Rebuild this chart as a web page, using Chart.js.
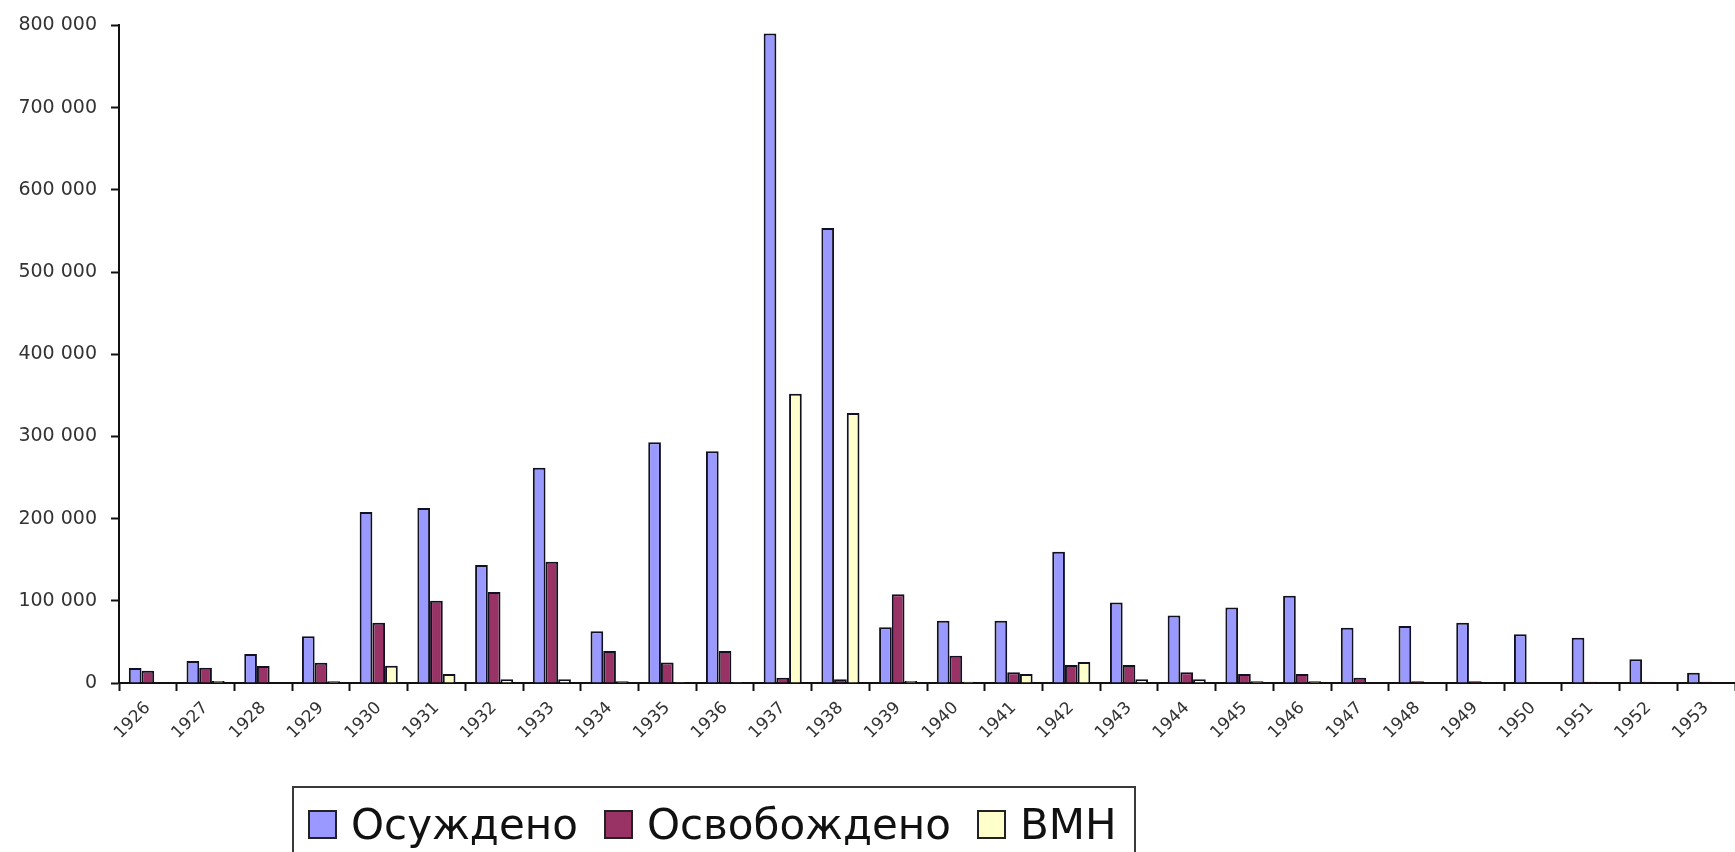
<!DOCTYPE html>
<html>
<head>
<meta charset="utf-8">
<script src="https://cdn.jsdelivr.net/npm/chart.js@4.4.1/dist/chart.umd.min.js"></script>
<style>
  html, body { margin: 0; padding: 0; background: #fff; overflow: hidden; }
  #wrap { position: relative; width: 1735px; height: 852px; }
  #legend {
    position: absolute; left: 292px; top: 786px; height: 90px;
    border: 2px solid #3a3a3a; box-sizing: border-box;
    display: inline-flex; align-items: flex-start; padding: 12px 17px 0 14px;
    font-family: "DejaVu Sans", sans-serif; font-size: 42px; color: #111;
  }
  #legend .item { display: flex; align-items: center; margin-right: 26px; }
  #legend .item:last-child { margin-right: 0; }
  #legend .sw { width: 25px; height: 25px; border: 2px solid #222; margin-right: 14px; }
</style>
</head>
<body>
<div id="wrap">
  <canvas id="chart"></canvas>
  <div id="legend"></div>
</div>
<script>
const years = ["1926", "1927", "1928", "1929", "1930", "1931", "1932", "1933", "1934", "1935",
   "1936", "1937", "1938", "1939", "1940", "1941", "1942", "1943", "1944", "1945",
   "1946", "1947", "1948", "1949", "1950", "1951", "1952", "1953"];

// Осуждено
const convicted = [18200, 26800, 35300, 57000, 208000, 213000, 143500, 262000, 63000, 293000,
   282000, 790000, 553600, 67700, 75800, 75800, 159800, 98000, 82000, 92000,
   106000, 67300, 69300, 73400, 59200, 55000, 28800, 12500];

// Освобождено
const released = [15000, 18600, 20700, 24700, 73400, 100000, 110700, 147600, 39000, 25000,
   39000, 6500, 4500, 108000, 33000, 13000, 22000, 22000, 13000, 11000,
   11000, 6500, 2000, 2000, 0, 1500, 1500, 1500];

// ВМН
const executed = [0, 2400, 0, 2100, 21000, 11000, 4500, 4500, 2000, 1200,
   1100, 352000, 328600, 2500, 1600, 11000, 25500, 4500, 4500, 2000,
   2000, 0, 0, 0, 0, 0, 0, 0];

const seriesNames = ["Осуждено", "Освобождено", "ВМН"];
const seriesColors = ["#9999ff", "#993366", "#ffffcc"];

const canvas = document.getElementById("chart");
canvas.width = 1735;
canvas.height = 852;

new Chart(canvas, {
   type: "bar",
   data: {
      labels: years,
      datasets: [convicted, released, executed].map((values, i) => ({
         label: seriesNames[i],
         data: values,
         backgroundColor: seriesColors[i],
         borderColor: "#111122",
         borderWidth: 2,
         borderSkipped: "bottom",
         categoryPercentage: 0.66,
         barPercentage: 1
      }))
   },
   options: {
      responsive: false,
      animation: false,
      layout: { padding: { left: 0, right: 0, top: 25, bottom: 69 } },
      plugins: {
         legend: { display: false },
         tooltip: { enabled: false }
      },
      scales: {
         x: {
            offset: true,
            grid: {
               offset: true,
               drawOnChartArea: false,
               drawTicks: true,
               tickLength: 8,
               tickWidth: 2,
               tickColor: "#111"
            },
            border: { display: true, color: "#111", width: 2 },
            ticks: {
               font: { family: "DejaVu Sans", size: 17 },
               color: "#333",
               maxRotation: 45,
               minRotation: 45,
               autoSkip: false,
               padding: 7
            },
            afterFit: scale => { scale.height = 100; }
         },
         y: {
            min: 0,
            max: 800000,
            grid: {
               drawOnChartArea: false,
               drawTicks: true,
               tickLength: 8,
               tickWidth: 2,
               tickColor: "#111"
            },
            border: { display: true, color: "#111", width: 2 },
            ticks: {
               stepSize: 100000,
               font: { family: "DejaVu Sans", size: 19 },
               color: "#333",
               padding: 14,
               callback: v => v === 0 ? "0" : String(v).replace(/\B(?=(\d{3})+(?!\d))/g, " ")
            },
            afterFit: scale => { scale.width = 119; }
         }
      }
   }
});

// Legend box below the chart
const legend = document.getElementById("legend");
seriesNames.forEach((name, i) => {
   const item = document.createElement("div");
   item.className = "item";
   const sw = document.createElement("span");
   sw.className = "sw";
   sw.style.background = seriesColors[i];
   const txt = document.createElement("span");
   txt.textContent = name;
   item.appendChild(sw);
   item.appendChild(txt);
   legend.appendChild(item);
});
</script>
</body>
</html>
